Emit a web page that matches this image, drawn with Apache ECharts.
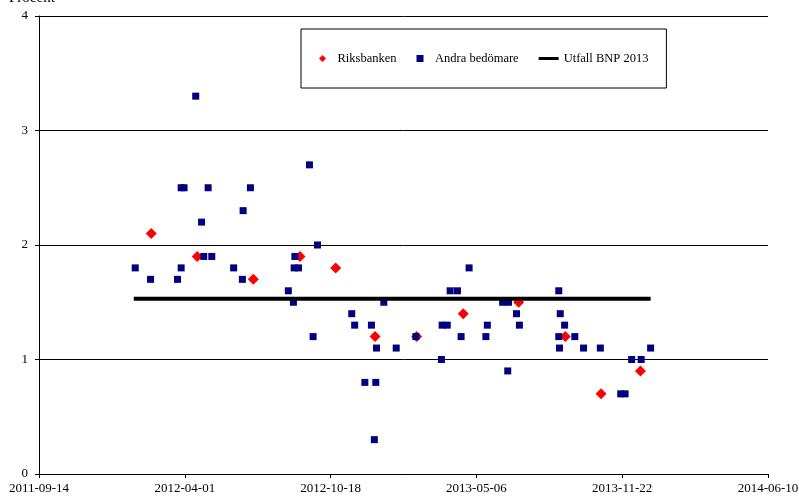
<!DOCTYPE html>
<html>
<head>
<meta charset="utf-8">
<script src="https://cdn.jsdelivr.net/npm/echarts@6/dist/echarts.min.js"></script>
<style>
  body { margin: 0; background: #fff; }
  #chart { width: 799px; height: 496px; }
</style>
</head>
<body>
<div id="chart"></div>
<script>
// x axis: days counted from the first tick date
var startDate = '2011-09-14';
var endDate = '2014-06-10';

var riksDates = ['2012-02-15', '2012-04-18', '2012-07-04', '2012-09-06', '2012-10-25', '2012-12-18',
                 '2013-02-13', '2013-04-18', '2013-07-03', '2013-09-05', '2013-10-24', '2013-12-17'];
var riksValues = [2.1, 1.9, 1.7, 1.9, 1.8, 1.2, 1.2, 1.4, 1.5, 1.2, 0.7, 0.9];

var andraDates = ['2012-01-24', '2012-02-14', '2012-03-22', '2012-03-27', '2012-03-27', '2012-03-31',
                  '2012-04-16', '2012-04-24', '2012-04-27', '2012-05-03', '2012-05-08', '2012-06-07',
                  '2012-06-19', '2012-06-20', '2012-06-30', '2012-08-21', '2012-08-28', '2012-08-29',
                  '2012-08-30', '2012-09-04', '2012-09-19', '2012-09-24', '2012-09-30', '2012-11-16',
                  '2012-11-20', '2012-12-04', '2012-12-13', '2012-12-17', '2012-12-19', '2012-12-20',
                  '2012-12-30', '2013-01-16', '2013-02-12', '2013-03-19', '2013-03-20', '2013-03-27',
                  '2013-03-31', '2013-04-10', '2013-04-15', '2013-04-26', '2013-05-19', '2013-05-21',
                  '2013-06-11', '2013-06-18', '2013-06-19', '2013-06-30', '2013-07-04', '2013-08-27',
                  '2013-08-27', '2013-08-28', '2013-08-29', '2013-09-04', '2013-09-18', '2013-09-30',
                  '2013-10-23', '2013-11-20', '2013-11-26', '2013-12-05', '2013-12-18', '2013-12-31'];
var andraValues = [1.8, 1.7, 1.7, 1.8, 2.5, 2.5,
                   3.3, 2.2, 1.9, 2.5, 1.9, 1.8,
                   1.7, 2.3, 2.5, 1.6, 1.5, 1.8,
                   1.9, 1.8, 2.7, 1.2, 2.0, 1.4,
                   1.3, 0.8, 1.3, 0.3, 0.8, 1.1,
                   1.5, 1.1, 1.2, 1.0, 1.3, 1.3,
                   1.6, 1.6, 1.2, 1.8, 1.2, 1.3,
                   1.5, 0.9, 1.5, 1.4, 1.3, 1.6,
                   1.2, 1.1, 1.4, 1.3, 1.2, 1.1,
                   1.1, 0.7, 0.7, 1.0, 1.0, 1.1];

var utfallDates = ['2012-01-22', '2013-12-31'];
var utfallValues = [1.53, 1.53];

var yTicks = { min: 0, max: 4, step: 1 };

var DAY = 86400000;
var base = Date.parse(startDate);
function dayOf(s) { return Math.round((Date.parse(s) - base) / DAY); }
function pairs(dates, values) {
    var out = [];
    for (var i = 0; i < dates.length; i++) out.push([dayOf(dates[i]), values[i]]);
    return out;
}

var font = '"Liberation Serif", "Times New Roman", serif';
var chart = echarts.init(document.getElementById('chart'));
chart.setOption({
    animation: false,
    textStyle: { fontFamily: font, color: '#000' },
    title: {
        text: 'Procent',
        left: 4,
        top: -14,
        textStyle: { fontFamily: font, fontSize: 15, fontWeight: 'normal', color: '#000' }
    },
    grid: { left: 39, right: 31, top: 16, bottom: 22, containLabel: false, outerBoundsMode: 'none' },
    legend: {
        left: 301,
        top: 29,
        padding: [23, 18, 23, 18],
        itemGap: 20,
        itemWidth: 20,
        itemHeight: 7,
        borderColor: '#000',
        borderWidth: 1,
        textStyle: { fontFamily: font, fontSize: 12.5, color: '#000' },
        data: [
            { name: 'Riksbanken', icon: 'path://M4,0L8,4L4,8L0,4Z' },
            { name: 'Andra bedömare', icon: 'path://M0,0H8V8H0Z' },
            { name: 'Utfall BNP 2013', icon: 'path://M0,0H20V3H0Z' }
        ]
    },
    xAxis: {
        type: 'value',
        min: 0,
        max: dayOf(endDate),
        interval: 200,
        axisLine: { lineStyle: { color: '#000', width: 1 } },
        axisTick: { show: true, inside: false, length: 4, lineStyle: { color: '#000' } },
        splitLine: { show: false },
        axisLabel: {
            color: '#000',
            fontFamily: font,
            fontSize: 13,
            margin: 8,
            showMinLabel: true,
            showMaxLabel: true,
            formatter: function (v) {
                return new Date(base + v * DAY).toISOString().slice(0, 10);
            }
        }
    },
    yAxis: {
        type: 'value',
        min: yTicks.min,
        max: yTicks.max,
        interval: yTicks.step,
        axisLine: { show: true, lineStyle: { color: '#000', width: 1 } },
        axisTick: { show: true, inside: false, length: 4, lineStyle: { color: '#000' } },
        splitLine: { show: true, lineStyle: { color: '#000', width: 1 } },
        axisLabel: { color: '#000', fontFamily: font, fontSize: 13, margin: 11 }
    },
    series: [
        {
            name: 'Riksbanken',
            type: 'scatter',
            symbol: 'diamond',
            symbolSize: 11,
            itemStyle: { color: '#ff0000', opacity: 1 },
            data: pairs(riksDates, riksValues),
            z: 2
        },
        {
            name: 'Andra bedömare',
            type: 'scatter',
            symbol: 'rect',
            symbolSize: 7,
            itemStyle: { color: '#000080', opacity: 1 },
            data: pairs(andraDates, andraValues),
            z: 3
        },
        {
            name: 'Utfall BNP 2013',
            type: 'line',
            symbol: 'none',
            color: '#000',
            lineStyle: { color: '#000', width: 4 },
            data: pairs(utfallDates, utfallValues),
            z: 4
        }
    ]
});
</script>
</body>
</html>
